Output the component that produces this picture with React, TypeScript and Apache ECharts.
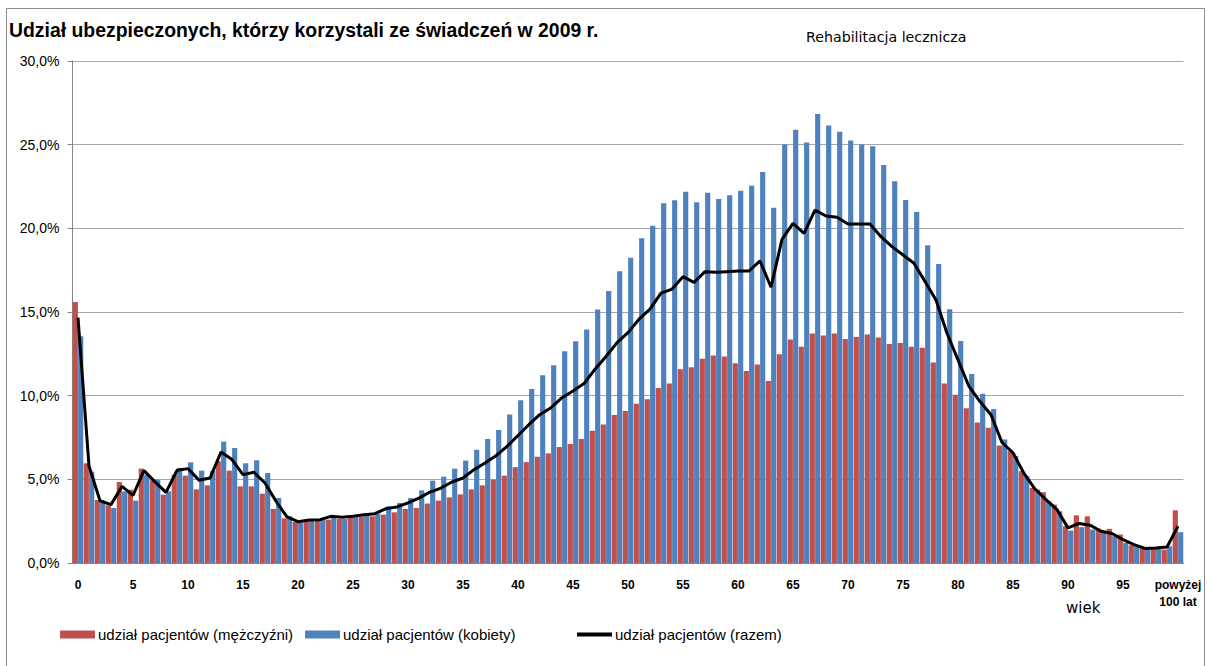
import React, { useEffect, useRef } from "react";
import * as echarts from "echarts";

const categories: string[] = [];
for (let i = 0; i < 100; i++) categories.push(String(i));
categories.push("powyżej\n100 lat");

const men = [
  15.6, 5.96, 3.76, 3.45, 4.84, 4.38, 5.64, 4.94, 4.08, 5.28,
  5.22, 4.4, 4.64, 6.08, 5.52, 4.58, 4.58, 4.14, 3.23, 2.67,
  2.45, 2.49, 2.55, 2.59, 2.63, 2.75, 2.79, 2.79, 2.89, 3.03,
  3.23, 3.29, 3.55, 3.73, 3.92, 4.1, 4.4, 4.64, 4.98, 5.22,
  5.73, 6.03, 6.35, 6.55, 6.93, 7.11, 7.41, 7.9, 8.28, 8.84,
  9.08, 9.52, 9.78, 10.46, 10.72, 11.58, 11.7, 12.2, 12.4, 12.34,
  11.94, 11.48, 11.86, 10.87, 12.48, 13.35, 12.92, 13.71, 13.59, 13.71,
  13.39, 13.51, 13.65, 13.47, 13.09, 13.15, 12.92, 12.86, 11.98, 10.73,
  10.06, 9.25, 8.4, 8.08, 7.02, 6.69, 5.49, 4.49, 4.23, 3.49,
  2.2, 2.85, 2.79, 2.06, 2.04, 1.7, 1.06, 0.9, 0.9, 0.8,
  3.15,
];

const women = [
  13.55, 5.46, 3.59, 3.29, 4.28, 3.73, 5.28, 4.98, 4.28, 5.68,
  6.02, 5.52, 5.5, 7.25, 6.87, 5.96, 6.14, 5.38, 3.88, 2.79,
  2.43, 2.55, 2.59, 2.79, 2.63, 2.79, 2.89, 2.95, 3.39, 3.59,
  3.88, 4.34, 4.92, 5.16, 5.64, 6.12, 6.77, 7.41, 7.95, 8.88,
  9.72, 10.4, 11.22, 11.82, 12.65, 13.25, 13.95, 15.15, 16.25, 17.43,
  18.24, 19.4, 20.16, 21.5, 21.68, 22.18, 21.56, 22.12, 21.76, 21.98,
  22.25, 22.55, 23.36, 21.23, 25.01, 25.89, 25.13, 26.83, 26.15, 25.77,
  25.25, 25.01, 24.9, 23.78, 22.81, 21.69, 20.98, 18.99, 17.87, 15.16,
  13.27, 11.3, 10.12, 9.2, 7.38, 6.39, 5.19, 4.39, 3.69, 3.09,
  1.94, 2.14, 2.0, 1.8, 1.6, 1.2, 1.0, 0.8, 0.9, 1.0,
  1.84,
];

const total = [
  14.66, 5.8, 3.72, 3.49, 4.58, 4.04, 5.52, 4.85, 4.22, 5.54,
  5.64, 4.94, 5.08, 6.63, 6.18, 5.28, 5.42, 4.78, 3.69, 2.75,
  2.47, 2.57, 2.59, 2.79, 2.73, 2.79, 2.89, 2.95, 3.25, 3.35,
  3.59, 3.88, 4.24, 4.48, 4.84, 5.08, 5.58, 5.98, 6.41, 6.97,
  7.62, 8.28, 8.88, 9.28, 9.88, 10.28, 10.72, 11.58, 12.34, 13.17,
  13.77, 14.57, 15.17, 16.13, 16.37, 17.11, 16.77, 17.41, 17.37, 17.41,
  17.45, 17.45, 18.05, 16.48, 19.34, 20.3, 19.7, 21.09, 20.74, 20.66,
  20.26, 20.26, 20.26, 19.5, 18.91, 18.41, 17.91, 16.82, 15.72, 13.73,
  12.14, 10.55, 9.65, 8.86, 7.2, 6.59, 5.35, 4.42, 3.79, 3.19,
  2.1, 2.36, 2.26, 1.9, 1.76, 1.4, 1.1, 0.87, 0.9, 0.96,
  2.2,
];

const yTicks = [0, 5, 10, 15, 20, 25, 30];

const NAME_M = "udział pacjentów (mężczyźni)";
const NAME_K = "udział pacjentów (kobiety)";
const NAME_R = "udział pacjentów (razem)";

const FONT = "'Liberation Sans', Arial, sans-serif";
const WIDE = "'DejaVu Sans', Verdana, sans-serif";

export default function App() {
  const ref = useRef<HTMLDivElement>(null);
  useEffect(() => {
    if (!ref.current) return;
    const chart = echarts.init(ref.current, null, { renderer: "svg" });
    const legendBase = {
      top: 627,
      padding: 0,
      itemWidth: 35,
      itemHeight: 8,
      itemGap: 0,
      textStyle: { fontFamily: FONT, fontSize: 15, color: "#000", padding: [0, 0, 0, -2] },
      selectedMode: false,
    };
    chart.setOption({
      animation: false,
      backgroundColor: "#fff",
      textStyle: { fontFamily: FONT },
      title: [
        {
          text: "Udział ubezpieczonych, którzy korzystali ze świadczeń w 2009 r.",
          left: 9,
          top: 20,
          padding: 0,
          textStyle: { fontFamily: FONT, fontSize: 19.4, fontWeight: "bold", color: "#000" },
        },
        {
          text: "Rehabilitacja lecznicza",
          left: 806,
          top: 30,
          padding: 0,
          textStyle: { fontFamily: WIDE, fontSize: 14.2, fontWeight: "normal", color: "#000" },
        },
      ],
      legend: [
        { ...legendBase, left: 60, data: [{ name: NAME_M, icon: "rect" }] },
        { ...legendBase, left: 305, data: [{ name: NAME_K, icon: "rect" }] },
        { ...legendBase, left: 577, itemHeight: 4, data: [{ name: NAME_R, icon: "rect" }] },
      ],
      grid: { left: 72.5, right: 23.5, top: 61, bottom: 103, containLabel: false },
      xAxis: {
        type: "category",
        data: categories,
        axisLine: { show: true, lineStyle: { color: "#868686", width: 1 } },
        axisTick: { show: false },
        axisLabel: {
          interval: (index: number) => index % 5 === 0,
          fontFamily: FONT,
          fontSize: 12,
          fontWeight: "bold",
          color: "#000",
          margin: 13,
          lineHeight: 17,
        },
      },
      yAxis: {
        type: "value",
        min: yTicks[0],
        max: yTicks[yTicks.length - 1],
        interval: 5,
        axisLine: { show: true, lineStyle: { color: "#868686", width: 1 } },
        axisTick: { show: true, length: 5, lineStyle: { color: "#868686" } },
        splitLine: { show: true, lineStyle: { color: "#a6a6a6", width: 1 } },
        axisLabel: {
          fontFamily: FONT,
          fontSize: 14,
          color: "#000",
          margin: 13,
          formatter: (v: number) => v.toFixed(1).replace(".", ",") + "%",
        },
      },
      series: [
        {
          name: NAME_M,
          type: "bar",
          data: men,
          itemStyle: { color: "#C0504D" },
          barGap: "4%",
          barCategoryGap: "4%",
        },
        {
          name: NAME_K,
          type: "bar",
          data: women,
          itemStyle: { color: "#4F81BD" },
        },
        {
          name: NAME_R,
          type: "line",
          data: total,
          symbol: "none",
          lineStyle: { color: "#000", width: 3 },
          itemStyle: { color: "#000" },
          z: 5,
        },
      ],
      graphic: [
        {
          type: "rect",
          shape: { x: 6.5, y: 8.5, width: 1198, height: 662 },
          style: { fill: "none", stroke: "#8c8c8c", lineWidth: 1 },
          silent: true,
          z: -10,
        },
        {
          type: "text",
          left: 1066,
          top: 600,
          style: { text: "wiek", fontFamily: WIDE, fontSize: 15, fill: "#000" },
        },
      ],
    });
    return () => chart.dispose();
  }, []);
  return (
    <div
      ref={ref}
      style={{ position: "fixed", left: 0, top: 0, width: 1207, height: 666 }}
    />
  );
}
